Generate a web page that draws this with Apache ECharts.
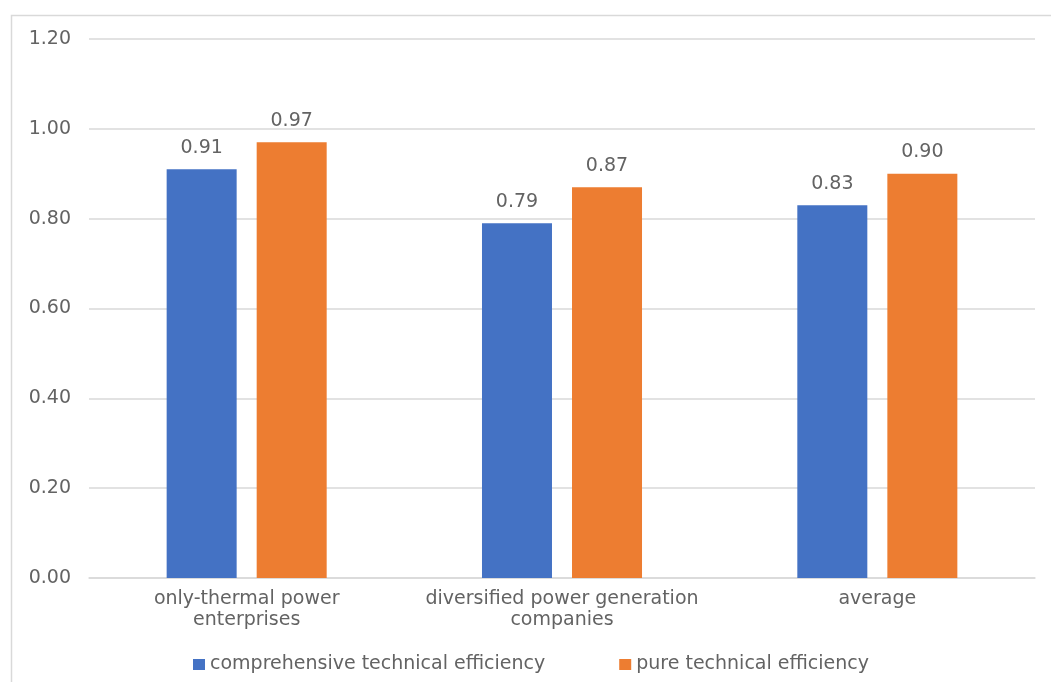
<!DOCTYPE html>
<html><head><meta charset="utf-8">
<script src="https://cdn.jsdelivr.net/npm/echarts@6/dist/echarts.min.js"></script>
<style>html,body{margin:0;padding:0;background:#fff}#c{width:1051px;height:682px}</style>
</head><body><div id="c"></div>
<script>
const categories = ['only-thermal power\nenterprises', 'diversified power generation\ncompanies', 'average'];
const seriesNames = ['comprehensive technical efficiency', 'pure technical efficiency'];
const comprehensive = [0.91, 0.79, 0.83];
const pure = [0.97, 0.87, 0.90];
const colors = ['#4472C4', '#ED7D31'];
const FONT = 'DejaVu Sans';
const FS = 19;
const TXT = '#636363';
const chart = echarts.init(document.getElementById('c'));
const lbl = {show: true, position: 'top', distance: 12, color: TXT, fontSize: FS, fontFamily: FONT,
  formatter: p => p.value.toFixed(2)};
chart.setOption({
  animation: false,
  graphic: [{type: 'rect', shape: {x: 11.5, y: 15.5, width: 1100, height: 800},
    style: {fill: 'none', stroke: '#d9d9d9', lineWidth: 1.5}, z: -1}],
  grid: {left: 89, right: 16, top: 39, bottom: 104, containLabel: false},
  legend: {left: 188, top: 650, itemWidth: 12, itemHeight: 11, itemGap: 74, icon: 'rect',
    textStyle: {color: TXT, fontSize: FS, fontFamily: FONT}},
  xAxis: {type: 'category', data: categories,
    axisLine: {lineStyle: {color: '#d9d9d9', width: 1.5}}, axisTick: {show: false},
    axisLabel: {interval: 0, color: TXT, fontSize: FS, fontFamily: FONT, margin: 11, lineHeight: 21}},
  yAxis: {type: 'value', min: 0, max: 1.2, interval: 0.2,
    axisLine: {show: false}, axisTick: {show: false},
    splitLine: {lineStyle: {color: '#d9d9d9', width: 1.5}},
    axisLabel: {color: TXT, fontSize: FS, fontFamily: FONT, margin: 18, formatter: v => v.toFixed(2)}},
  series: [
    {name: seriesNames[0], type: 'bar', data: comprehensive, barWidth: '22.2%', barGap: '28.6%',
      itemStyle: {color: colors[0]}, label: lbl},
    {name: seriesNames[1], type: 'bar', data: pure, barWidth: '22.2%', barGap: '28.6%',
      itemStyle: {color: colors[1]}, label: lbl}
  ]
});
</script></body></html>
